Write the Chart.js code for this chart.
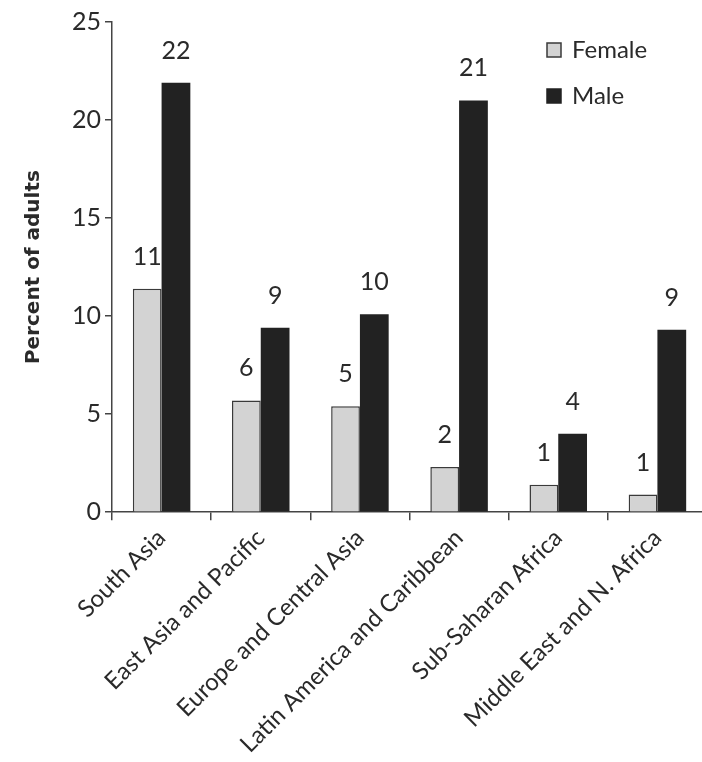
<!DOCTYPE html>
<html>
<head>
<meta charset="utf-8">
<script src="https://cdn.jsdelivr.net/npm/chart.js@4/dist/chart.umd.min.js"></script>
<style>
  html, body { margin: 0; padding: 0; background: #fff; overflow: hidden; }
  #wrap { width: 707px; height: 762px; }
</style>
</head>
<body>
<div id="wrap"><canvas id="chart"></canvas></div>
<script>
// data
const regions = [
    "South Asia",
    "East Asia and Pacific",
    "Europe and Central Asia",
    "Latin America and Caribbean",
    "Sub-Saharan Africa",
    "Middle East and N. Africa",
];
const female = [11.4, 5.7, 5.4, 2.3, 1.4, 0.9];
const male = [21.9, 9.4, 10.1, 21.0, 4.0, 9.3];
const yTicks = [0, 5, 10, 15, 20, 25];

const FONT = "Lato, 'Open Sans', sans-serif";
const INK = "#2a2a2a";

// value labels above each bar
const barLabels = {
    id: "barLabels",
    afterDatasetsDraw(chart) {
        const ctx = chart.ctx;
        ctx.save();
        ctx.font = "25px " + FONT;
        ctx.fillStyle = INK;
        ctx.textAlign = "center";
        ctx.textBaseline = "middle";
        chart.data.datasets.forEach((ds, i) => {
            chart.getDatasetMeta(i).data.forEach((bar, j) => {
                ctx.fillText(String(Math.round(ds.data[j])), bar.x, bar.y - 32);
            });
        });
        ctx.restore();
    },
};

// stacked legend in the top right corner
const cornerLegend = {
    id: "cornerLegend",
    afterDraw(chart) {
        const ctx = chart.ctx;
        ctx.save();
        ctx.font = "24px " + FONT;
        ctx.textBaseline = "middle";
        chart.data.datasets.forEach((ds, i) => {
            const y = 50 + i * 46;
            ctx.fillStyle = ds.backgroundColor;
            ctx.fillRect(547, y - 7, 14, 14);
            ctx.strokeStyle = ds.borderColor;
            ctx.lineWidth = 1.5;
            ctx.strokeRect(547, y - 7, 14, 14);
            ctx.fillStyle = INK;
            ctx.fillText(ds.label, 572, y);
        });
        ctx.restore();
    },
};

new Chart(document.getElementById("chart"), {
    type: "bar",
    data: {
        labels: regions,
        datasets: [
            {
                label: "Female",
                data: female,
                backgroundColor: "#d3d3d3",
                borderColor: "#3a3a3a",
                borderWidth: 1.5,
                borderSkipped: "bottom",
            },
            {
                label: "Male",
                data: male,
                backgroundColor: "#222222",
                borderColor: "#222222",
                borderWidth: 0,
            },
        ],
    },
    options: {
        responsive: true,
        maintainAspectRatio: false,
        animation: false,
        layout: { padding: { left: 22, top: 22, right: 0, bottom: 0 } },
        datasets: { bar: { categoryPercentage: 0.58, barPercentage: 1.0 } },
        plugins: {
            legend: { display: false },
            tooltip: { enabled: false },
        },
        scales: {
            x: {
                grid: {
                    display: true,
                    drawOnChartArea: false,
                    tickLength: 8,
                    color: "#444",
                    lineWidth: 1.5,
                },
                border: { color: "#444", width: 1.5 },
                ticks: {
                    color: INK,
                    font: { family: FONT, size: 24 },
                    minRotation: 45,
                    maxRotation: 45,
                    autoSkip: false,
                    padding: 3.5,
                },
            },
            y: {
                min: 0,
                max: 25,
                afterBuildTicks(axis) {
                    axis.ticks = yTicks.map(v => ({ value: v }));
                },
                grid: {
                    display: true,
                    drawOnChartArea: false,
                    tickLength: 7,
                    color: "#444",
                    lineWidth: 1.5,
                },
                border: { color: "#444", width: 1.5 },
                ticks: {
                    color: INK,
                    font: { family: FONT, size: 25 },
                    padding: 4,
                },
                title: {
                    display: true,
                    text: "Percent of adults",
                    color: INK,
                    font: { family: "'DejaVu Sans', sans-serif", size: 20, weight: "bold" },
                    padding: { top: 0, bottom: 22 },
                },
            },
        },
    },
    plugins: [barLabels, cornerLegend],
});
</script>
</body>
</html>
